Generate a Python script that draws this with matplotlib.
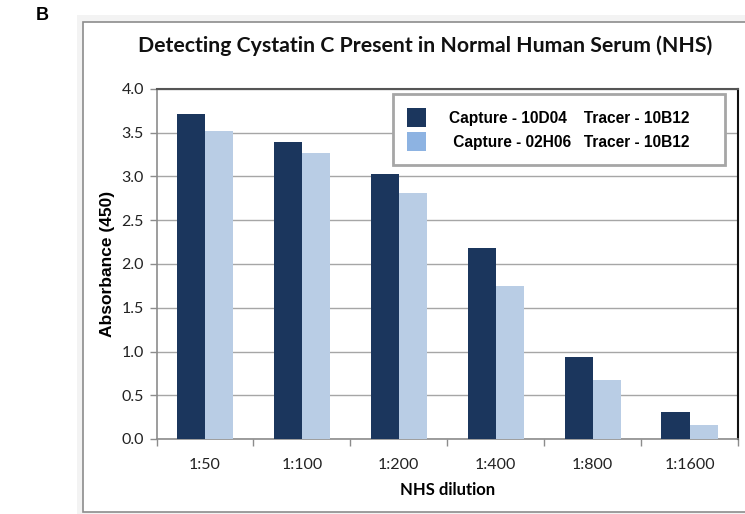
import matplotlib
matplotlib.use("Agg")
import matplotlib.pyplot as plt
from matplotlib.patches import Rectangle, Patch
import numpy as np

categories = ["1:50", "1:100", "1:200", "1:400", "1:800", "1:1600"]
series1 = [3.71, 3.39, 3.03, 2.18, 0.94, 0.31]
series2 = [3.52, 3.27, 2.81, 1.75, 0.67, 0.16]
labels = ["Capture - 10D04    Tracer - 10B12     ", " Capture - 02H06   Tracer - 10B12     "]
yticks = [0.0, 0.5, 1.0, 1.5, 2.0, 2.5, 3.0, 3.5, 4.0]

W, H = 745, 514
fig = plt.figure(figsize=(W / 100, H / 100), dpi=100)

# spreadsheet-like background and chart frame
fig.patches.append(Rectangle((77 / W, 0), 1, 1 - 15 / H, transform=fig.transFigure,
                             facecolor="#f3f3f3", edgecolor="none", zorder=0))
fig.patches.append(Rectangle((83 / W, 1 - 512 / H), 1, (512 - 21.5) / H, transform=fig.transFigure,
                             facecolor="white", edgecolor="#8c8c8c", linewidth=1.2, zorder=1))

ax = fig.add_axes([156.5 / W, 1 - 439 / H, (738 - 156.5) / W, (439 - 89) / H])
ax.set_zorder(2)

x = np.arange(len(categories))
bw = 0.29
ax.bar(x - bw / 2, series1, width=bw, color="#1b365d", zorder=3)
ax.bar(x + bw / 2, series2, width=bw, color="#b9cde5", zorder=3)

ax.set_xlim(-0.5, len(categories) - 0.5)
ax.set_ylim(0, 4.0)
ax.set_yticks(yticks)
ax.set_yticklabels([f"{v:.1f}" for v in yticks], fontfamily="Lato", fontsize=11.5, color="#222222")
ax.yaxis.grid(True, color="#a6a6a6", linewidth=1.0, zorder=0)
ax.set_axisbelow(True)

ax.set_xticks(x)
ax.set_xticklabels(categories, fontfamily="Lato", fontsize=11.5, color="#222222")
ax.tick_params(axis="x", which="major", length=0, pad=14)
ax.set_xticks(np.arange(-0.5, len(categories), 1.0), minor=True)
ax.tick_params(axis="x", which="minor", length=5, direction="out", color="#8c8c8c", width=1)
ax.tick_params(axis="y", length=5, direction="out", color="#8c8c8c", width=1, pad=4)

for s in ["left", "bottom"]:
    ax.spines[s].set_color("#8c8c8c")
    ax.spines[s].set_linewidth(1.2)
ax.spines["top"].set_color("#555555")
ax.spines["top"].set_linewidth(1.5)
ax.spines["right"].set_color("#111111")
ax.spines["right"].set_linewidth(1.5)

ax.set_ylabel("Absorbance (450)", fontfamily="Liberation Sans", fontweight="bold", fontsize=12.5, labelpad=5)
ax.set_xlabel("NHS dilution", fontfamily="Lato", fontweight="bold", fontsize=12, labelpad=7)

fig.text(425 / W, 1 - 46 / H, "Detecting Cystatin C Present in Normal Human Serum (NHS)",
         ha="center", va="center", fontfamily="Lato", fontweight="bold", fontsize=15.3, color="#111111")
fig.text(42 / W, 1 - 16 / H, "B", ha="center", va="center", fontfamily="Liberation Sans",
         fontweight="bold", fontsize=13)

handles = [Patch(facecolor="#1b365d", edgecolor="none"), Patch(facecolor="#8db3e2", edgecolor="none")]
leg = ax.legend(handles, labels, loc="upper left", bbox_to_anchor=((393 - 156.5) / (738 - 156.5), (439 - 94) / 350),
                prop={"family": "Liberation Sans", "weight": "bold", "size": 11.2},
                frameon=True, fancybox=False, framealpha=1, edgecolor="#a6a6a6",
                handlelength=1.2, handleheight=1.5, labelspacing=0.35, borderpad=0.9,
                handletextpad=1.5, borderaxespad=0)
leg.get_frame().set_linewidth(2)
leg.set_zorder(5)

fig.savefig("out.png", dpi=100)
